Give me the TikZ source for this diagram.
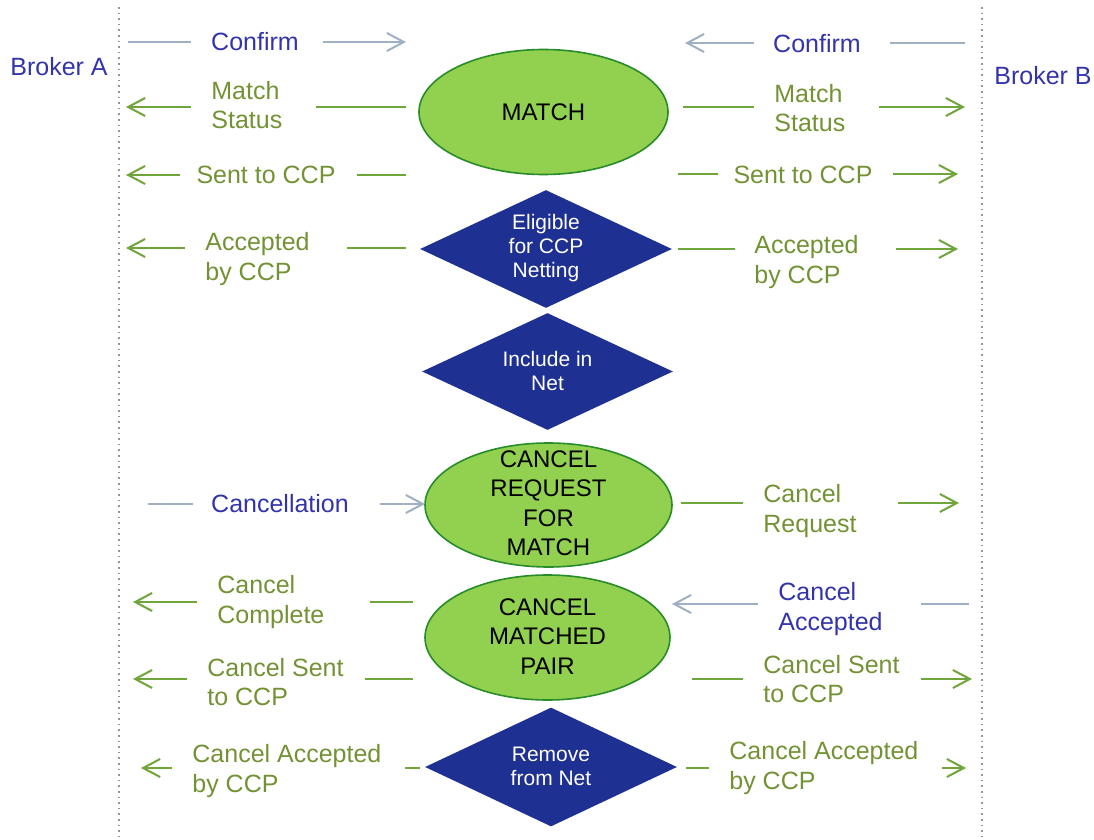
\documentclass[tikz,border=0pt]{standalone}
\usepackage{fontspec}
\setmainfont{Liberation Sans}
\usetikzlibrary{arrows.meta,shapes.geometric}
\definecolor{txtblue}{RGB}{51,51,170}
\definecolor{txtgreen}{RGB}{114,146,52}
\definecolor{lngreen}{RGB}{112,165,60}
\definecolor{lngray}{RGB}{160,176,196}
\definecolor{ellfill}{RGB}{146,208,80}
\definecolor{elldraw}{RGB}{40,140,40}
\definecolor{diafill}{RGB}{30,48,145}
\definecolor{dotgray}{RGB}{150,150,150}
\begin{document}
\begin{tikzpicture}[x=0.5pt,y=-0.5pt,
  lbl/.style={inner sep=0pt, font=\fontsize{12.5}{14.7}\selectfont, align=left},
  glbl/.style={lbl,text=txtgreen},
  blbl/.style={lbl,text=txtblue},
  gline/.style={draw=lngreen,line width=1pt},
  bline/.style={draw=lngray,line width=1pt},
  garr/.style={gline,-{Straight Barb[length=8.5pt,width=9pt]}},
  barr/.style={bline,-{Straight Barb[length=8.5pt,width=9pt]}},
  ellbox/.style={ellipse,draw=elldraw,fill=ellfill,line width=0.8pt,inner sep=0pt},
  diabox/.style={diamond,fill=diafill,inner sep=0pt},
  elltxt/.style={inner sep=0pt,align=center,font=\fontsize{12}{14.75}\selectfont},
  diatxt/.style={inner sep=0pt,align=center,text=white,font=\fontsize{10.5}{12}\selectfont},
  lane/.style={draw=dotgray,line width=0.8pt,dotted}
]
\useasboundingbox (0,0) rectangle (1094,840);

% lanes
\coordinate (laneAt) at (119,7);  \coordinate (laneAb) at (119,840);
\coordinate (laneBt) at (982,7);  \coordinate (laneBb) at (982,840);
\draw[lane] (laneAt) -- (laneAb);
\draw[lane] (laneBt) -- (laneBb);

\node[blbl] (brA) at (59,67) {Broker A};
\node[blbl] (brB) at (1043,76) {Broker B};

% central shapes
\node[ellbox,minimum width=124.5pt,minimum height=62.5pt] (match) at (543.5,112) {};
\node[elltxt] (matchT) at (match.center) {MATCH};
\node[diabox,minimum width=126pt,minimum height=59pt] (elig) at (546,249) {};
\node[diatxt] (eligT) at (546,248.5) {Eligible\\for CCP\\Netting};
\node[diabox,minimum width=125.5pt,minimum height=58.5pt] (incl) at (547.5,371.5) {};
\node[diatxt] (inclT) at (547.5,371) {Include in\\Net};
\node[ellbox,minimum width=123.5pt,minimum height=62pt] (crm) at (548.5,505) {};
\node[elltxt] (crmT) at (548.5,503) {CANCEL\\REQUEST\\FOR\\MATCH};
\node[ellbox,minimum width=122.5pt,minimum height=62.5pt] (cmp) at (547.5,637.5) {};
\node[elltxt] (cmpT) at (547.5,636.5) {CANCEL\\MATCHED\\PAIR};
\node[diabox,minimum width=126pt,minimum height=59.5pt] (rem) at (551,767) {};
\node[diatxt] (remT) at (551,766) {Remove\\from Net};

% ---------- left side ----------
\node[blbl] (cfA) at (255,42) {Confirm};
\coordinate (cfA1) at (128,42); \coordinate (cfA2) at (191,42);
\coordinate (cfA3) at (323,42); \coordinate (cfA4) at (406,42);
\draw[bline] (cfA1) -- (cfA2); \draw[barr] (cfA3) -- (cfA4);

\node[glbl,anchor=west] (msA) at (211,105) {Match\\Status};
\coordinate (msA1) at (126,107); \coordinate (msA2) at (191,107);
\coordinate (msA3) at (316,107); \coordinate (msA4) at (406,107);
\draw[garr] (msA2) -- (msA1); \draw[gline] (msA3) -- (msA4);

\node[glbl] (scA) at (266,175) {Sent to CCP};
\coordinate (scA1) at (126,175); \coordinate (scA2) at (180,175);
\coordinate (scA3) at (357,175); \coordinate (scA4) at (406,175);
\draw[garr] (scA2) -- (scA1); \draw[gline] (scA3) -- (scA4);

\node[glbl,anchor=west] (acA) at (205,259) {Accepted\\by CCP};
\coordinate (acA1) at (126,248); \coordinate (acA2) at (185,248);
\coordinate (acA3) at (347,248); \coordinate (acA4) at (406,248);
\draw[garr] (acA2) -- (acA1); \draw[gline] (acA3) -- (acA4);

\node[blbl] (clA) at (280,504) {Cancellation};
\coordinate (clA1) at (148,504); \coordinate (clA2) at (193,504);
\coordinate (clA3) at (380,504); \coordinate (clA4) at (425,504);
\draw[bline] (clA1) -- (clA2); \draw[barr] (clA3) -- (clA4);

\node[glbl,anchor=west] (ccA) at (217,602) {Cancel\\Complete};
\coordinate (ccA1) at (133,602); \coordinate (ccA2) at (197,602);
\coordinate (ccA3) at (370,602); \coordinate (ccA4) at (413,602);
\draw[garr] (ccA2) -- (ccA1); \draw[gline] (ccA3) -- (ccA4);

\node[glbl,anchor=west] (csA) at (207,682) {Cancel Sent\\to CCP};
\coordinate (csA1) at (133,679); \coordinate (csA2) at (187,679);
\coordinate (csA3) at (365,679); \coordinate (csA4) at (413,679);
\draw[garr] (csA2) -- (csA1); \draw[gline] (csA3) -- (csA4);

\node[glbl,anchor=west] (caA) at (192,771) {Cancel Accepted\\by CCP};
\coordinate (caA1) at (141,768); \coordinate (caA2) at (172,768);
\coordinate (caA3) at (405,768); \coordinate (caA4) at (420,768);
\draw[garr] (caA2) -- (caA1); \draw[gline] (caA3) -- (caA4);

% ---------- right side ----------
\node[blbl] (cfB) at (817,44) {Confirm};
\coordinate (cfB1) at (685,43); \coordinate (cfB2) at (754,43);
\coordinate (cfB3) at (890,43); \coordinate (cfB4) at (965,43);
\draw[barr] (cfB2) -- (cfB1); \draw[bline] (cfB3) -- (cfB4);

\node[glbl,anchor=west] (msB) at (774,108) {Match\\Status};
\coordinate (msB1) at (683,107); \coordinate (msB2) at (754,107);
\coordinate (msB3) at (879,107); \coordinate (msB4) at (965,107);
\draw[gline] (msB1) -- (msB2); \draw[garr] (msB3) -- (msB4);

\node[glbl] (scB) at (803,175) {Sent to CCP};
\coordinate (scB1) at (678,174); \coordinate (scB2) at (718,174);
\coordinate (scB3) at (893,174); \coordinate (scB4) at (958,174);
\draw[gline] (scB1) -- (scB2); \draw[garr] (scB3) -- (scB4);

\node[glbl,anchor=west] (acB) at (754,262) {Accepted\\by CCP};
\coordinate (acB1) at (678,249); \coordinate (acB2) at (735,249);
\coordinate (acB3) at (896,249); \coordinate (acB4) at (958,249);
\draw[gline] (acB1) -- (acB2); \draw[garr] (acB3) -- (acB4);

\node[glbl,anchor=west] (crB) at (763,511) {Cancel\\Request};
\coordinate (crB1) at (681,503); \coordinate (crB2) at (743,503);
\coordinate (crB3) at (898,503); \coordinate (crB4) at (959,503);
\draw[gline] (crB1) -- (crB2); \draw[garr] (crB3) -- (crB4);

\node[blbl,anchor=west] (cxB) at (778,609) {Cancel\\Accepted};
\coordinate (cxB1) at (672,604); \coordinate (cxB2) at (758,604);
\coordinate (cxB3) at (921,604); \coordinate (cxB4) at (969,604);
\draw[barr] (cxB2) -- (cxB1); \draw[bline] (cxB3) -- (cxB4);

\node[glbl,anchor=west] (csB) at (763,679) {Cancel Sent\\to CCP};
\coordinate (csB1) at (692,679); \coordinate (csB2) at (743,679);
\coordinate (csB3) at (921,679); \coordinate (csB4) at (972,679);
\draw[gline] (csB1) -- (csB2); \draw[garr] (csB3) -- (csB4);

\node[glbl,anchor=west] (caB) at (729,768) {Cancel Accepted\\by CCP};
\coordinate (caB1) at (686,768); \coordinate (caB2) at (709,768);
\coordinate (caB3) at (942,768); \coordinate (caB4) at (966,768);
\draw[gline] (caB1) -- (caB2); \draw[garr] (caB3) -- (caB4);
\end{tikzpicture}
\end{document}
